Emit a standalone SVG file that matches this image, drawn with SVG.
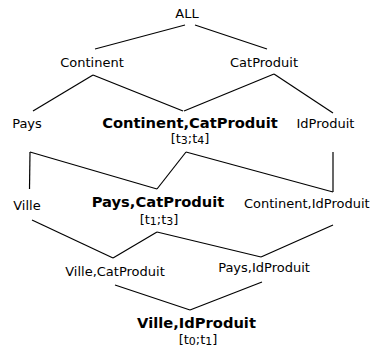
<svg xmlns="http://www.w3.org/2000/svg" width="371" height="348" viewBox="0 0 371 348">
<style>
text{font-family:"DejaVu Sans","Liberation Sans",sans-serif;fill:#000;text-anchor:middle}
.n{font-size:13px}
.b{font-size:14.7px;font-weight:bold}
.s{font-size:11px}
#connectors line{stroke:#000;stroke-width:1.2;fill:none}
</style>
<rect width="371" height="348" fill="#fff"/>
<g id="connectors">
<line x1="95" y1="49" x2="185" y2="25"/>
<line x1="195" y1="25" x2="267" y2="49"/>
<line x1="93" y1="75" x2="33" y2="111"/>
<line x1="93" y1="75" x2="183" y2="111"/>
<line x1="274" y1="74" x2="184" y2="111"/>
<line x1="274" y1="74" x2="333" y2="113"/>
<line x1="30" y1="152" x2="29.5" y2="189"/>
<line x1="30" y1="152" x2="157" y2="189"/>
<line x1="186" y1="152" x2="157" y2="189"/>
<line x1="186" y1="152" x2="333" y2="192"/>
<line x1="333" y1="152" x2="333" y2="192"/>
<line x1="32" y1="220" x2="113" y2="258"/>
<line x1="157" y1="232" x2="113" y2="258"/>
<line x1="157" y1="232" x2="261" y2="257"/>
<line x1="333" y1="225" x2="261" y2="257"/>
<line x1="115" y1="285" x2="190" y2="310"/>
<line x1="262" y1="282" x2="190" y2="310"/>
</g>
<g id="node-all"><text class="n" x="187" y="18">ALL</text></g>
<g id="node-continent"><text class="n" x="92" y="67">Continent</text></g>
<g id="node-catproduit"><text class="n" x="264" y="67">CatProduit</text></g>
<g id="node-pays"><text class="n" x="27" y="128">Pays</text></g>
<g id="node-continent-catproduit">
<text class="b" x="190" y="128">Continent,CatProduit</text>
<text class="n" x="190" y="142.5">[t<tspan class="s" dy="1.5">3</tspan><tspan dy="-1.5">;t</tspan><tspan class="s" dy="1.5">4</tspan><tspan dy="-1.5">]</tspan></text>
</g>
<g id="node-idproduit"><text class="n" x="325.5" y="128">IdProduit</text></g>
<g id="node-ville"><text class="n" x="27" y="210">Ville</text></g>
<g id="node-pays-catproduit">
<text class="b" x="158" y="207">Pays,CatProduit</text>
<text class="n" x="159" y="223.5">[t<tspan class="s" dy="1.5">1</tspan><tspan dy="-1.5">;t</tspan><tspan class="s" dy="1.5">3</tspan><tspan dy="-1.5">]</tspan></text>
</g>
<g id="node-continent-idproduit"><text class="n" x="244" y="208" style="text-anchor:start">Continent,IdProduit</text></g>
<g id="node-ville-catproduit"><text class="n" x="115" y="276">Ville,CatProduit</text></g>
<g id="node-pays-idproduit"><text class="n" x="264" y="272">Pays,IdProduit</text></g>
<g id="node-ville-idproduit">
<text class="b" x="196.5" y="327.5">Ville,IdProduit</text>
<text class="n" x="198" y="343.5">[t<tspan class="s" dy="1.5">0</tspan><tspan dy="-1.5">;t</tspan><tspan class="s" dy="1.5">1</tspan><tspan dy="-1.5">]</tspan></text>
</g>
</svg>
